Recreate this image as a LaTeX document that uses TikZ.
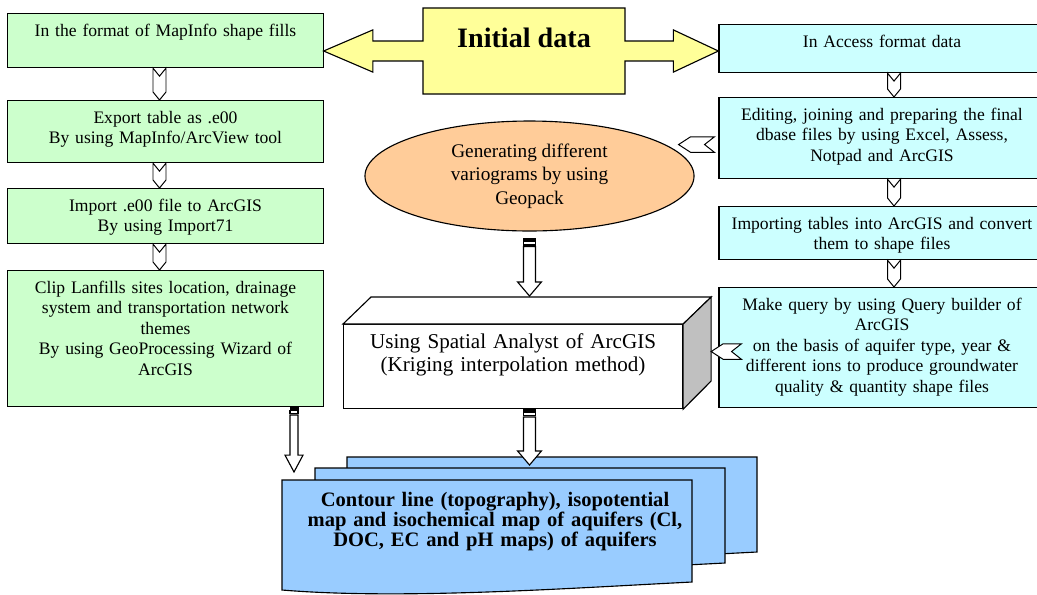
\documentclass[tikz,border=0pt]{standalone}
\usepackage{fontspec}
\setmainfont{Liberation Serif}
\usepackage{xcolor}
\usetikzlibrary{shapes, arrows, positioning, calc}

\definecolor{mapgreen}{HTML}{CCFFCC}
\definecolor{acccyan}{HTML}{CCFFFF}
\definecolor{inityellow}{HTML}{FFFF99}
\definecolor{varorange}{HTML}{FFCC99}
\definecolor{mapblue}{HTML}{99CCFF}
\definecolor{sidegrey}{HTML}{C0C0C0}

\tikzset{
    flowbox/.style={draw, line width=0.8pt, rectangle, anchor=north, inner xsep=4pt,
        inner ysep=7pt, text height=9pt, align=center, font=\fontsize{12.5}{14.6}\selectfont},
    lbox/.style={flowbox, fill=mapgreen, minimum width=224.1pt, text width=216pt},
    rbox/.style={flowbox, fill=acccyan, minimum width=231.9pt, text width=223.9pt},
    chev/.style={draw, fill=white, line width=0.7pt, line join=miter},
    blk/.style={draw, fill=white, line width=0.8pt},
    sheet/.style={draw, fill=mapblue, line width=0.8pt}
}

% notched arrow between two stacked boxes
\newcommand{\chevdown}[3]{%
    \draw[chev] let \p1=(#2.south), \p2=(#3.north) in
        (#1-6.5,\y1) -- (#1,\y1-5.7pt) -- (#1+6.5,\y1) -- (#1+6.5,\y2+5.7pt)
        -- (#1,\y2) -- (#1-6.5,\y2+5.7pt) -- cycle;}
% notched arrow pointing left
\newcommand{\chevleft}[2]{%
    \draw[chev] let \p1=(#1), \p2=(#2) in
        (\x1,\y1+5.5pt) -- (\x1-7pt,\y1) -- (\x1,\y1-5.5pt) -- (\x2+8.5pt,\y1-5.5pt)
        -- (\x2,\y1) -- (\x2+8.5pt,\y1+5.5pt) -- cycle;}
% striped block arrow going down
\newcommand{\blockdown}[5]{%
    \filldraw[line width=0.6pt] let \p1=(#1) in (\x1-#3,\y1) rectangle (\x1+#3,\y1-2.2pt);
    \draw[blk] let \p1=(#1) in (\x1-#3,\y1-2.2pt) rectangle (\x1+#3,\y1-4.6pt);
    \draw[blk] let \p1=(#1), \p2=(#2) in
        (\x1-#3,\y1-5.6pt) -- (\x1+#3,\y1-5.6pt) -- (\x1+#3,\y2+#5) -- (\x1+#4,\y2+#5)
        -- (\x1,\y2) -- (\x1-#4,\y2+#5) -- (\x1-#3,\y2+#5) -- cycle;}

\begin{document}
\begin{tikzpicture}[x=0.025cm, y=-0.025cm]
    \useasboundingbox (0,0) rectangle (1037,594);
    \clip (0,0) rectangle (1037,594);

    % MapInfo branch
    \node[lbox, text depth=15.4pt] (mapinfo) at (165.5,13) {In the format of MapInfo shape fills};
    \node[lbox, text depth=21.1pt] (export) at (165.5,100) {Export table as .e00\\By using MapInfo/ArcView tool};
    \node[lbox, text depth=16.1pt] (import) at (165.5,188) {Import .e00 file to ArcGIS\\By using Import71};
    \node[lbox, text depth=73.7pt] (clip) at (165.5,270) {Clip Lanfills sites location, drainage\\system and transportation network\\themes\\By using GeoProcessing Wizard of\\ArcGIS};

    % Access branch
    \node[rbox, text depth=11.1pt] (access) at (882,24) {In Access format data};
    \node[rbox, text depth=34.6pt] (edit) at (882,97) {Editing, joining and preparing the final\\dbase files by using Excel, Assess,\\Notpad and ArcGIS};
    \node[rbox, text depth=14.7pt] (convert) at (882,206) {Importing tables into ArcGIS and convert\\them to shape files};
    \node[rbox, text depth=62.3pt] (query) at (882,287) {Make query by using Query builder of\\ArcGIS\\on the basis of aquifer type, year \&\\different ions to produce groundwater\\quality \& quantity shape files};

    % Initial data with its two arrows
    \coordinate (initc) at (524,51);
    \draw[line width=0.8pt, fill=inityellow] let \p1=(mapinfo.east), \p2=(access.west), \p3=(initc) in
        (\x3-71.8pt,\y3+30.6pt) -- (\x3+71.8pt,\y3+30.6pt) -- (\x3+71.8pt,\y3+7.1pt)
        -- (\x2-32pt,\y3+7.1pt) -- (\x2-32pt,\y3+15pt) -- (\x2,\y3) -- (\x2-32pt,\y3-15pt)
        -- (\x2-32pt,\y3-7.1pt) -- (\x3+71.8pt,\y3-7.1pt) -- (\x3+71.8pt,\y3-30.6pt)
        -- (\x3-71.8pt,\y3-30.6pt) -- (\x3-71.8pt,\y3-7.1pt) -- (\x1+35pt,\y3-7.1pt)
        -- (\x1+35pt,\y3-15pt) -- (\x1,\y3) -- (\x1+35pt,\y3+15pt) -- (\x1+35pt,\y3+7.1pt)
        -- (\x3-71.8pt,\y3+7.1pt) -- cycle;
    \node[font=\bfseries\fontsize{20}{24}\selectfont, anchor=base] (init) at (524,47) {Initial data};

    % Variograms and kriging
    \node[ellipse, draw, fill=varorange, line width=0.8pt, minimum width=234pt, minimum height=78.2pt,
        inner sep=0pt, align=center, font=\fontsize{13.7}{16.7}\selectfont] (vario) at (529.5,176)
        {Generating different\\variograms by using\\Geopack};
    \node[draw, fill=white, line width=0.8pt, anchor=north west, minimum width=241.1pt, inner xsep=4pt,
        inner ysep=6.7pt, text height=10pt, text depth=36.35pt, text width=233pt, align=center,
        font=\fontsize{15}{17}\selectfont] (krig) at (343,324)
        {Using Spatial Analyst of ArcGIS\\(Kriging interpolation method)};
    \draw[line width=0.8pt, fill=white] (krig.north west) -- ++(28,-27) -- ([shift={(28,-27)}]krig.north east) -- (krig.north east) -- cycle;
    \draw[line width=0.8pt, fill=sidegrey] (krig.north east) -- ++(28,-27) -- ++(0,84) -- (krig.south east) -- cycle;

    % Output maps
    \foreach \sx/\sy/\sh in {65/-23/95, 33/-12/95, 0/0/102}
        \draw[sheet] (282+\sx,480+\sy) -- ++(410,0) -- ++(0,\sh)
            .. controls +(-120,6) and +(120,10) .. (282+\sx,488+\sy+\sh) -- cycle;
    \node[font=\bfseries\fontsize{14.6}{14.4}\selectfont, align=center, text width=290pt, inner sep=0pt,
        anchor=base] (maps) at (495,506)
        {Contour line (topography), isopotential\\map and isochemical map of aquifers (Cl,\\DOC, EC and pH maps) of aquifers};
    \coordinate (tipA) at (294,472);
    \coordinate (tipB) at (529.5,465);

    % Connectors
    \chevdown{159.5}{mapinfo}{export}
    \chevdown{159.5}{export}{import}
    \chevdown{159.5}{import}{clip}
    \chevdown{894}{access}{edit}
    \chevdown{894}{edit}{convert}
    \chevdown{894}{convert}{query}
    \chevleft{[shift={(-4,6.5)}]edit.west}{[xshift=-11.4pt]vario.east}
    \chevleft{[shift={(23,4)}]query.west}{[xshift=19.9pt]krig.east}
    \blockdown{294,0 |- clip.south}{tipA}{2.85pt}{6.4pt}{12pt}
    \blockdown{[yshift=-5pt]vario.south}{$(vario.south |- krig.north)+(0,-28)$}{4.3pt}{8.5pt}{10pt}
    \blockdown{vario.south |- krig.south}{tipB}{4.3pt}{8.5pt}{10pt}
\end{tikzpicture}
\end{document}
